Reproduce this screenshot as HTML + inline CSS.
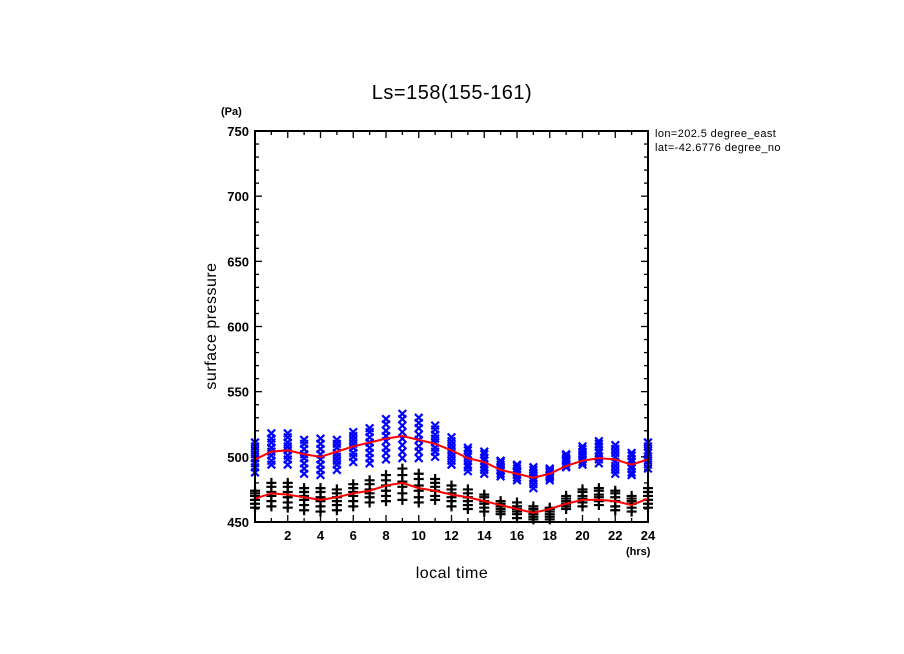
<!DOCTYPE html>
<html><head><meta charset="utf-8"><style>
body{margin:0;background:#fff;}
svg{display:block;font-family:"Liberation Sans",sans-serif;}
</style></head><body>
<svg width="904" height="654" viewBox="0 0 904 654">
<rect width="904" height="654" fill="#fff"/>
<text x="452" y="99" font-size="20" text-anchor="middle" letter-spacing="0.5">Ls=158(155-161)</text>
<text x="221" y="115" font-size="11" font-weight="bold">(Pa)</text>
<text x="626" y="555" font-size="11" font-weight="bold">(hrs)</text>
<text x="452" y="578" font-size="16" text-anchor="middle" letter-spacing="0.5">local time</text>
<text transform="translate(216,326) rotate(-90)" font-size="16" text-anchor="middle" letter-spacing="0.5">surface pressure</text>
<svg x="654" y="126" width="126" height="34" overflow="hidden">
<text x="1" y="11" font-size="11" letter-spacing="0.4">lon=202.5 degree_east</text>
<text x="1" y="25" font-size="11" letter-spacing="0.4">lat=-42.6776 degree_north</text>
</svg>
<g id="axes"></g>
<g id="marks"></g>
<rect x="255" y="131" width="393" height="391" fill="none" stroke="#000" stroke-width="2"/>
</svg>
<script>
const hours=[0,1,2,3,4,5,6,7,8,9,10,11,12,13,14,15,16,17,18,19,20,21,22,23,24];
const blueMean=[498,504,505,502,500,504,508,511,514,516,513,510,505,499,496,490,487,484,487,493,497,499,498,494,498];
const blackMean=[468,472,471,469,467,469,472,474,478,480,476,474,471,469,466,463,460,457,460,464,467,467,466,463,468];
const blueObs=[[488,492,495,499,502,505,508,511],[494,497,501,504,507,511,514,518],[494,498,501,505,508,511,515,518],[487,491,495,499,502,506,510,513],[486,490,494,498,502,506,510,514],[490,494,497,500,503,507,510,513],[496,500,503,507,510,513,516,519],[495,499,503,507,511,515,519,522],[498,503,507,512,516,520,525,529],[499,504,509,514,519,524,529,533],[499,504,508,513,517,522,526,530],[500,504,507,511,514,517,521,524],[494,497,500,503,506,509,512,515],[489,492,494,497,500,502,505,507],[487,490,492,494,497,499,502,504],[485,487,489,490,492,494,496,497],[482,484,486,488,489,491,493,494],[476,479,482,484,486,488,490,492],[482,484,485,486,488,489,490,491],[492,493,495,497,498,499,501,502],[494,496,498,500,502,504,506,508],[495,498,500,503,505,508,510,512],[487,490,493,496,500,503,506,509],[486,488,491,493,496,498,501,503],[491,494,497,500,503,505,508,511]];
const blackObs=[[461,464,467,470,472,474],[462,466,470,473,477,480],[461,465,469,473,477,480],[459,463,467,470,473,476],[458,462,466,469,473,476],[459,463,466,469,472,475],[462,466,470,473,476,479],[465,469,472,475,479,482],[466,470,474,478,482,486],[467,472,477,481,486,491],[465,469,474,478,483,487],[467,470,474,477,480,483],[462,466,469,472,475,478],[460,463,466,469,472,475],[458,461,464,466,469,471],[456,458,460,462,464,466],[453,456,458,460,462,465],[452,454,456,458,460,462],[452,454,456,458,460,461],[460,462,464,466,468,470],[462,465,468,470,473,475],[463,466,469,471,474,476],[459,462,466,469,472,474],[458,461,464,466,468,470],[461,464,467,470,473,476]];
const yTicks=[450,500,550,600,650,700,750];
const xTicks=[2,4,6,8,10,12,14,16,18,20,22,24];
const NS="http://www.w3.org/2000/svg";
const X0=255,X1=648,Y0=522,Y1=131;
const sx=h=>X0+(h-0)/24*(X1-X0);
const sy=v=>Y0-(v-450)/300*(Y0-Y1);
function mk(t,a,p){const e=document.createElementNS(NS,t);for(const k in a)e.setAttribute(k,a[k]);(p||document.getElementById('marks')).appendChild(e);return e;}
const ax=document.getElementById('axes');
for(let v=450;v<=750;v+=10){const maj=v%50===0,l=maj?7:4;
 let t=mk('line',{x1:X0,x2:X0+l,y1:sy(v),y2:sy(v),stroke:'#000','stroke-width':1.3},ax);
 
 
 let t2=mk('line',{x1:X1,x2:X1-l,y1:sy(v),y2:sy(v),stroke:'#000','stroke-width':1.3},ax);
 
 }
yTicks.forEach(v=>{const t=mk('text',{x:X0-6,y:sy(v)+5,'font-size':13,'font-weight':'bold','text-anchor':'end'},ax);t.textContent=v;
 
 });
for(let h=1;h<24;h++){const l=h%2===0?7:4;
 let t=mk('line',{x1:sx(h),x2:sx(h),y1:Y0,y2:Y0-l,stroke:'#000','stroke-width':1.3},ax);
 
 
 let t2=mk('line',{x1:sx(h),x2:sx(h),y1:Y1,y2:Y1+l,stroke:'#000','stroke-width':1.3},ax);
 
 }
xTicks.forEach(h=>{const t=mk('text',{x:sx(h),y:Y0+18,'font-size':13,'font-weight':'bold','text-anchor':'middle'},ax);t.textContent=h;
 
 });
hours.forEach((h,i)=>{
 blueObs[i].forEach(v=>{const x=sx(h),y=sy(v),d=3.8;
  const p=mk('path',{d:`M${x-d},${y-d}L${x+d},${y+d}M${x-d},${y+d}L${x+d},${y-d}`,stroke:'#0000ff','stroke-width':2.2});
  
  });
 blackObs[i].forEach(v=>{const x=sx(h),y=sy(v),d=5;
  const p=mk('path',{d:`M${x-d},${y}L${x+d},${y}M${x},${y-d}L${x},${y+d}`,stroke:'#000','stroke-width':2.2});
  
  });
});
[blueMean,blackMean].forEach((arr,k)=>{
 const pts=hours.map((h,i)=>sx(h)+','+sy(arr[i])).join(' ');
 const l=mk('polyline',{points:pts,fill:'none',stroke:'#ff0000','stroke-width':2});
 
 
});
</script>
</body></html>
